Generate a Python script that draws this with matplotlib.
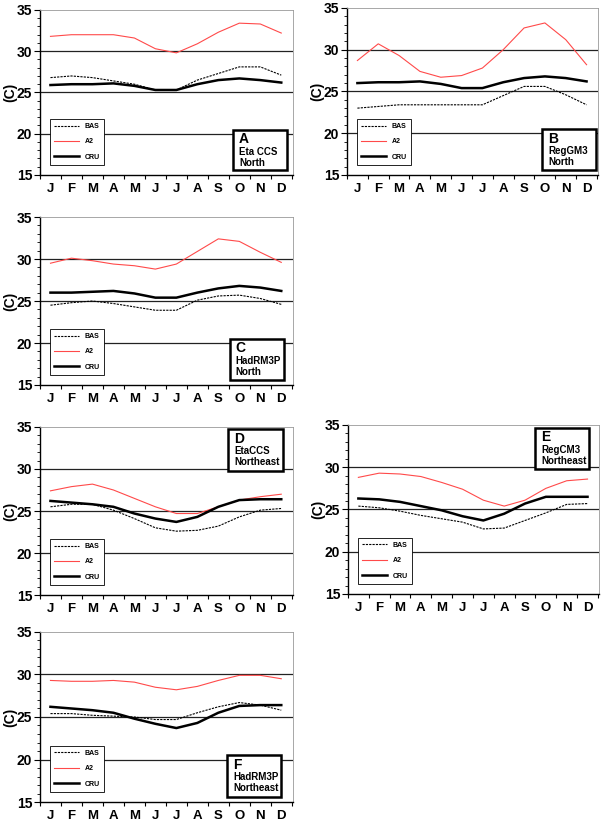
import numpy as np
import matplotlib
matplotlib.use("Agg")
import matplotlib.pyplot as plt
from matplotlib.patches import Rectangle

plt.rcParams['font.family'] = ['Liberation Sans', 'DejaVu Sans']
plt.rcParams['font.weight'] = 'bold'

months = ['J', 'F', 'M', 'A', 'M', 'J', 'J', 'A', 'S', 'O', 'N', 'D']

# panel A - Eta CCS North
a_bas = [26.8, 27.0, 26.8, 26.4, 26.0, 25.3, 25.3, 26.5, 27.3, 28.1, 28.1, 27.1]
a_a2 = [31.8, 32.0, 32.0, 32.0, 31.6, 30.3, 29.8, 30.9, 32.3, 33.4, 33.3, 32.2]
a_cru = [25.9, 26.0, 26.0, 26.1, 25.8, 25.3, 25.3, 26.0, 26.5, 26.7, 26.5, 26.2]
# panel B - RegGM3 North
b_bas = [23.0, 23.2, 23.4, 23.4, 23.4, 23.4, 23.4, 24.5, 25.6, 25.6, 24.6, 23.4]
b_a2 = [28.7, 30.7, 29.3, 27.4, 26.7, 26.9, 27.8, 30.0, 32.6, 33.2, 31.2, 28.2]
b_cru = [26.0, 26.1, 26.1, 26.2, 25.9, 25.4, 25.4, 26.1, 26.6, 26.8, 26.6, 26.2]
# panel C - HadRM3P North
c_bas = [24.5, 24.8, 25.0, 24.7, 24.3, 23.9, 23.9, 25.1, 25.6, 25.7, 25.3, 24.6]
c_a2 = [29.5, 30.1, 29.8, 29.4, 29.2, 28.8, 29.4, 30.9, 32.4, 32.1, 30.8, 29.6]
c_cru = [26.0, 26.0, 26.1, 26.2, 25.9, 25.4, 25.4, 26.0, 26.5, 26.8, 26.6, 26.2]
# panel D - EtaCCS Northeast
d_bas = [25.5, 25.8, 25.8, 25.1, 24.1, 23.0, 22.6, 22.7, 23.2, 24.3, 25.1, 25.3]
d_a2 = [27.4, 27.9, 28.2, 27.5, 26.5, 25.5, 24.7, 24.7, 25.5, 26.3, 26.7, 27.0]
d_cru = [26.2, 26.0, 25.8, 25.5, 24.7, 24.1, 23.7, 24.3, 25.5, 26.3, 26.4, 26.4]
# panel E - RegCM3 Northeast
e_bas = [25.4, 25.2, 24.8, 24.3, 23.9, 23.5, 22.7, 22.8, 23.7, 24.6, 25.6, 25.7]
e_a2 = [28.8, 29.3, 29.2, 28.9, 28.2, 27.4, 26.1, 25.4, 26.1, 27.5, 28.4, 28.6]
e_cru = [26.3, 26.2, 25.9, 25.4, 24.9, 24.2, 23.7, 24.5, 25.7, 26.5, 26.5, 26.5]
# panel F - HadRM3P Northeast
f_bas = [25.4, 25.4, 25.2, 25.1, 25.0, 24.7, 24.7, 25.5, 26.2, 26.7, 26.4, 25.8]
f_a2 = [29.3, 29.2, 29.2, 29.3, 29.1, 28.5, 28.2, 28.6, 29.3, 29.9, 29.9, 29.5]
f_cru = [26.2, 26.0, 25.8, 25.5, 24.8, 24.2, 23.7, 24.3, 25.5, 26.3, 26.4, 26.4]

panels = [
    ('A', 'Eta CCS', 'North', a_bas, a_a2, a_cru, [0.0664, 0.7874, 0.420, 0.2005], 'low', 0.763),
    ('B', 'RegGM3', 'North', b_bas, b_a2, b_cru, [0.5764, 0.7874, 0.417, 0.2030], 'low', 0.777),
    ('C', 'HadRM3P', 'North', c_bas, c_a2, c_cru, [0.0664, 0.5322, 0.420, 0.2041], 'low', 0.750),
    ('D', 'EtaCCS', 'Northeast', d_bas, d_a2, d_cru, [0.0664, 0.2770, 0.420, 0.2042], 'high', 0.745),
    ('E', 'RegCM3', 'Northeast', e_bas, e_a2, e_cru, [0.5780, 0.2783, 0.417, 0.2053], 'high', 0.745),
    ('F', 'HadRM3P', 'Northeast', f_bas, f_a2, f_cru, [0.0664, 0.0255, 0.420, 0.2066], 'low', 0.740),
]

fig = plt.figure(figsize=(6.02, 8.23), dpi=100)
x = np.arange(12)

for letter, name1, name2, bas, a2, cru, pos, where, bx in panels:
    ax = fig.add_axes(pos)
    for yv in [20, 25, 30]:
        ax.axhline(yv, color='#222222', lw=0.9, zorder=1)
    ax.plot(x, bas, color='black', lw=0.8, ls=(0, (2, 1)), label='BAS', zorder=3)
    ax.plot(x, a2, color='#ff4a4a', lw=0.8, label='A2', zorder=3)
    ax.plot(x, cru, color='black', lw=1.8, label='CRU', zorder=4)

    ax.set_xlim(-0.45, 11.55)
    ax.set_ylim(15, 35)
    ax.set_yticks([15, 20, 25, 30, 35])
    ax.set_yticks(np.arange(15, 36, 1), minor=True)
    ax.set_xticks(x)
    ax.set_xticklabels(months, fontsize=9.5, fontweight='bold')
    ax.set_xticks(np.arange(-0.5, 12, 1), minor=True)
    ax.tick_params(axis='x', which='major', length=0, pad=6)
    ax.tick_params(axis='x', which='minor', length=3, direction='out', width=0.8)
    ax.tick_params(axis='y', which='major', length=4, width=0.8, labelsize=10, pad=1.5)
    ax.tick_params(axis='y', which='minor', length=2, width=0.6)
    for lab in ax.get_yticklabels():
        lab.set_fontweight('bold')
    ax.spines['left'].set_color('black')
    ax.spines['bottom'].set_color('black')
    ax.spines['left'].set_linewidth(1.0)
    ax.spines['bottom'].set_linewidth(1.0)
    ax.spines['top'].set_color('#999999')
    ax.spines['right'].set_color('#999999')
    ax.spines['top'].set_linewidth(0.6)
    ax.spines['right'].set_linewidth(0.6)

    ax.set_ylabel('(C)', fontsize=10, fontweight='bold')
    ax.yaxis.set_label_coords(-0.09, 0.5)

    leg = ax.legend(loc='lower left', bbox_to_anchor=(0.025, 0.04),
                    handlelength=3.6, labelspacing=1.2, borderpad=0.6,
                    fancybox=False, framealpha=1, edgecolor='black',
                    prop={'weight': 'bold', 'size': 5})
    leg.get_frame().set_linewidth(0.6)

    # label box
    h = ax.get_position().height * 823
    by = 0.03 if where == 'low' else 0.74
    top = by + 0.245
    ax.add_patch(Rectangle((bx, by), 0.215, 0.245, transform=ax.transAxes,
                           facecolor='white', edgecolor='black', lw=1.8, zorder=6))
    ax.text(bx + 0.024, top - 13.5 / h, letter, transform=ax.transAxes, fontsize=10,
            fontweight='bold', va='baseline', ha='left', zorder=7)
    ax.text(bx + 0.024, top - 25 / h, name1, transform=ax.transAxes, fontsize=7,
            fontweight='bold', va='baseline', ha='left', zorder=7)
    ax.text(bx + 0.024, top - 36 / h, name2, transform=ax.transAxes, fontsize=7,
            fontweight='bold', va='baseline', ha='left', zorder=7)

fig.savefig('out.png', dpi=100)
